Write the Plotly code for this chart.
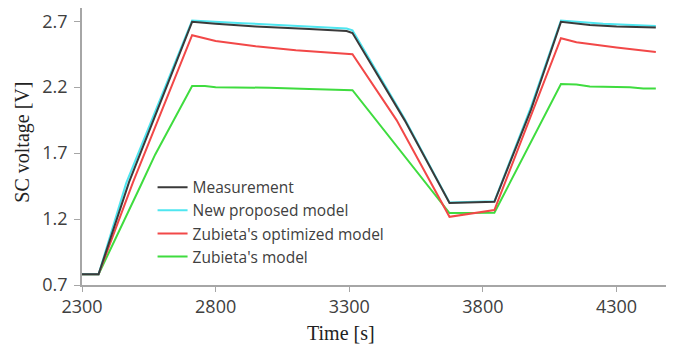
import plotly.graph_objects as go

# ---- data ----
t_meas = [2300, 2362, 2476, 2712, 2800, 2950, 3150, 3290, 3312, 3507, 3675, 3843, 3980, 4092, 4200, 4300, 4447]
v_meas = [0.781, 0.781, 1.48, 2.695, 2.68, 2.66, 2.64, 2.625, 2.61, 1.95, 1.321, 1.331, 2.03, 2.695, 2.672, 2.66, 2.652]

t_new = [2300, 2362, 2465, 2712, 2900, 3100, 3290, 3312, 3507, 3675, 3843, 3980, 4092, 4250, 4447]
v_new = [0.781, 0.781, 1.47, 2.705, 2.685, 2.665, 2.645, 2.63, 1.96, 1.325, 1.335, 2.05, 2.705, 2.68, 2.664]

t_opt = [2300, 2362, 2491, 2712, 2800, 2950, 3100, 3250, 3312, 3477, 3675, 3843, 4092, 4150, 4300, 4447]
v_opt = [0.781, 0.781, 1.48, 2.594, 2.55, 2.51, 2.48, 2.46, 2.45, 1.95, 1.217, 1.268, 2.571, 2.54, 2.50, 2.467]

t_zub = [2300, 2362, 2521, 2574, 2712, 2760, 2800, 3000, 3150, 3312, 3675, 3843, 4092, 4150, 4200, 4350, 4400, 4447]
v_zub = [0.781, 0.781, 1.46, 1.69, 2.208, 2.208, 2.20, 2.195, 2.185, 2.177, 1.245, 1.248, 2.223, 2.22, 2.205, 2.20, 2.19, 2.19]

names = ["Measurement", "New proposed model", "Zubieta's optimized model", "Zubieta's model"]
colors = ["#3a3a3a", "#4fe6f0", "#f24848", "#3fdc3f"]

x_ticks = [2300, 2800, 3300, 3800, 4300]
y_ticks = [0.7, 1.2, 1.7, 2.2, 2.7]

fig = go.Figure()
series = [(t_meas, v_meas), (t_new, v_new), (t_opt, v_opt), (t_zub, v_zub)]
# draw order: green, red, cyan, black (black on top); legend reversed
for i in [3, 2, 1, 0]:
    t, v = series[i]
    fig.add_trace(go.Scatter(x=t, y=v, mode="lines", name=names[i],
                             line=dict(color=colors[i], width=2)))

tickfont = dict(family="Open Sans", size=18, color="#404040")
# page body has an 8px margin, so the figure is sized/placed to compensate
fig.update_layout(
    width=666, height=338,
    margin=dict(l=74, r=4, t=0, b=61, autoexpand=False),
    paper_bgcolor="white", plot_bgcolor="white",
    showlegend=True,
    legend=dict(x=0.12, y=0.413, xanchor="left", yanchor="top",
                traceorder="reversed", bgcolor="rgba(0,0,0,0)",
                font=dict(family="Open Sans", size=15.5, color="#404040")),
    xaxis=dict(range=[2300, 4500], tickmode="array", tickvals=x_ticks,
               ticktext=[str(v) for v in x_ticks], automargin=False,
               showgrid=False, zeroline=False, showline=True,
               linecolor="#a6a6a6", linewidth=1.5,
               ticks="outside", ticklen=5, tickcolor="#a6a6a6",
               tickfont=tickfont),
    yaxis=dict(range=[0.7, 2.8], tickmode="array", tickvals=y_ticks,
               ticktext=[f"{v:.1f}" for v in y_ticks], automargin=False,
               showgrid=False, zeroline=False, showline=True,
               linecolor="#a6a6a6", linewidth=1.5,
               ticks="outside", ticklen=6, tickcolor="#a6a6a6",
               ticklabelstandoff=3, tickfont=tickfont),
    annotations=[
        dict(text="Time [s]", xref="paper", yref="paper", x=0.4405, y=-0.173,
             xanchor="center", yanchor="middle", showarrow=False,
             font=dict(family="Liberation Serif", size=20, color="#222222")),
        dict(text="SC voltage [V]", xref="paper", yref="paper", x=-0.1003, y=0.514,
             xanchor="center", yanchor="middle", showarrow=False, textangle=-90,
             font=dict(family="Liberation Serif", size=20, color="#222222")),
    ],
)

fig.write_html("out.html")
